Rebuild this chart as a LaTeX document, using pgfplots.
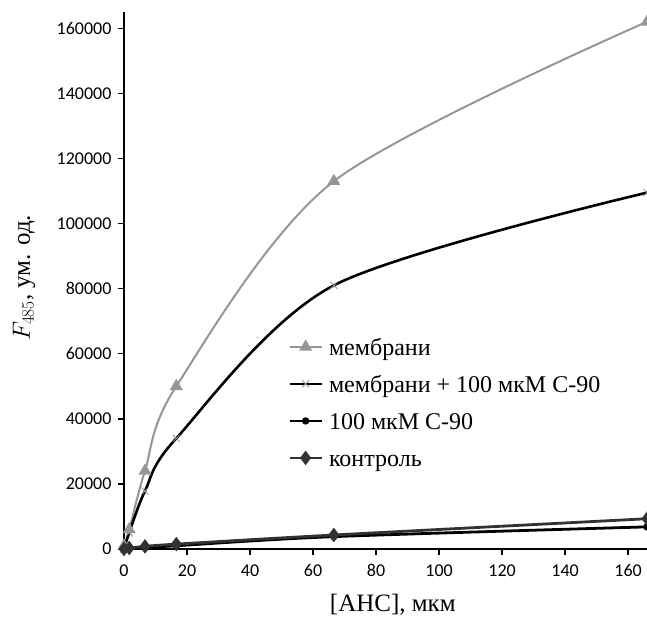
\documentclass[border=0pt]{standalone}
\usepackage{fontspec}
\setmainfont{Liberation Serif}
\newfontfamily\tickfont{Carlito}
\usepackage{pgfplots}
\pgfplotsset{compat=1.18}

\definecolor{memgray}{RGB}{150,150,150}
\definecolor{ctrlgray}{RGB}{50,50,50}

\begin{document}
\begin{tikzpicture}
  \begin{axis}[
      name=ax,
      scale only axis,
      width=523pt, height=537pt,
      xmin=0, xmax=166, ymin=0, ymax=165000,
      axis lines=left,
      axis line style={line width=2.4pt, -},
      xtick={0,20,...,160},
      ytick={0,20000,...,160000},
      tick style={line width=1.4pt, black},
      tick align=outside,
      major tick length=6pt,
      /pgf/number format/assume math mode=true,
      scaled y ticks=false,
      yticklabel style={/pgf/number format/fixed, /pgf/number format/1000 sep={}, xshift=-3pt},
      xticklabel style={yshift=-6pt},
      tick label style={font=\tickfont\fontsize{18}{20}\selectfont},
      xlabel={[АНС], мкм},
      ylabel={$F_{485}$, ум. од.},
      label style={font=\fontsize{25}{27}\selectfont},
      xlabel style={at={(axis description cs:0.514,-0.104)}, anchor=center},
      ylabel style={at={(axis description cs:-0.191,0.505)}, anchor=center},
      legend style={draw=none, fill=none, at={(0.3136,0.395)}, anchor=north west,
        font=\fontsize{24}{26}\selectfont, row sep=17.3pt, inner sep=0pt,
        nodes={inner sep=0pt},
        /tikz/every odd column/.append style={column sep=6pt}},
      legend cell align=left,
      legend image code/.code={\draw[mark repeat=2,mark phase=2,#1]
        plot coordinates {(0pt,0pt) (16pt,0pt) (32pt,0pt)};},
    ]
    \addplot[memgray, line width=2pt, smooth, mark=triangle*, mark size=5.5pt]
      coordinates {(0,1000) (1.66,6000) (6.66,24000) (16.6,50000) (66.6,113000) (166,162000)};
    \addlegendentry{\strut мембрани}
    \addplot[black, line width=2.6pt, smooth, mark=x, mark size=5pt,
        mark options={line width=0.8pt, draw=memgray}]
      coordinates {(0,0) (1.66,5000) (6.66,17800) (16.6,34000) (66.6,81000) (166,109500)};
    \addlegendentry{\strut мембрани + 100 мкМ С-90}
    \addplot[black, line width=2.8pt, smooth, mark=*, mark size=2.2pt]
      coordinates {(0,0) (1.66,200) (6.66,400) (16.6,1000) (66.6,3800) (166,6800)};
    \addlegendentry{\strut 100 мкМ С-90}
    \addplot[ctrlgray, line width=2.8pt, smooth, mark=diamond*, mark size=5pt]
      coordinates {(0,0) (1.66,300) (6.66,800) (16.6,1500) (66.6,4300) (166,9300)};
    \addlegendentry{\strut контроль}
  \end{axis}
  \pgfresetboundingbox
  \path[use as bounding box] ([xshift=-124pt,yshift=-79pt]ax.south west)
    rectangle ([yshift=12pt]ax.north east);
\end{tikzpicture}
\end{document}
